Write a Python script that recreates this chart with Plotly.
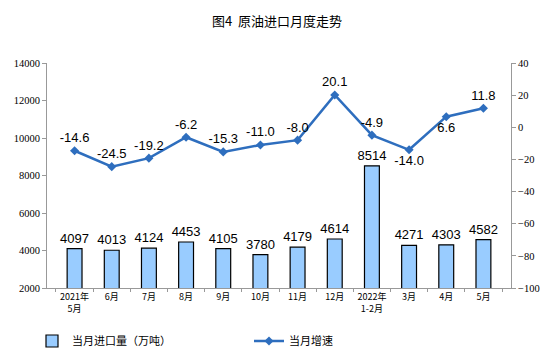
import plotly.graph_objects as go

categories = ["2021年<br>5月", "6月", "7月", "8月", "9月", "10月", "11月", "12月", "2022年<br>1-2月", "3月", "4月", "5月"]
imports = [4097, 4013, 4124, 4453, 4105, 3780, 4179, 4614, 8514, 4271, 4303, 4582]
growth = [-14.6, -24.5, -19.2, -6.2, -15.3, -11.0, -8.0, 20.1, -4.9, -14.0, 6.6, 11.8]
growth_pos = ["top center"] * 9 + ["bottom center", "bottom center", "top center"]

fig = go.Figure()
fig.add_trace(go.Bar(
    x=categories, y=imports, name="当月进口量（万吨）",
    marker=dict(color="#99CCFF", line=dict(color="#000000", width=1.2)),
    width=0.4,
    text=[str(v) for v in imports], textposition="outside", constraintext="none",
    textfont=dict(family="Liberation Sans, Arial", size=13, color="#000"),
    cliponaxis=False,
))
fig.add_trace(go.Scatter(
    x=categories, y=growth, name="当月增速", yaxis="y2",
    mode="lines+markers+text",
    line=dict(color="#2E6EBE", width=2.5),
    marker=dict(symbol="diamond", size=7, color="#2E6EBE"),
    text=[f"{v:.1f}" for v in growth], textposition=growth_pos,
    textfont=dict(family="Liberation Sans, Arial", size=13, color="#000"),
    cliponaxis=False,
))

fig.update_layout(
    width=554, height=357,
    margin=dict(l=47, r=43, t=63, b=69, autoexpand=False),
    paper_bgcolor="white", plot_bgcolor="white",
    title=dict(text="图4  原油进口月度走势", x=0.5, xanchor="center",
               yref="container", y=1 - 21 / 357, yanchor="middle",
               font=dict(family="Noto Sans CJK SC", size=13, color="#000")),
    font=dict(family="Noto Sans CJK SC", size=10, color="#000"),
    xaxis=dict(showline=True, linecolor="#999999", linewidth=1, ticks="outside", ticklen=3,
               tickcolor="#999999", tickson="boundaries", showgrid=False, tickangle=0,
               automargin=False,
               tickfont=dict(family="Noto Sans CJK SC", size=9)),
    yaxis=dict(range=[2000, 14000], dtick=2000, tickformat="d", showline=True, linecolor="#999999",
               linewidth=1, automargin=False,
               ticks="outside", ticklen=4, tickcolor="#999999", showgrid=False, zeroline=False,
               tickfont=dict(family="Liberation Serif", size=10.5)),
    yaxis2=dict(range=[-100, 40], dtick=20, overlaying="y", side="right", showline=True,
                linecolor="#999999", linewidth=1, ticks="outside", ticklen=4, tickcolor="#999999",
                showgrid=False, zeroline=False, automargin=False,
                tickfont=dict(family="Liberation Serif", size=10.5)),
    legend=dict(orientation="h", xref="container", x=32 / 554, yref="container", y=1 - 341 / 357,
                xanchor="left", yanchor="middle",
                font=dict(family="Noto Sans CJK SC", size=11), itemwidth=30,
                entrywidthmode="pixels", entrywidth=172, tracegroupgap=0),
    showlegend=True,
)

fig.write_html("out.html", config={"displayModeBar": False},
               post_script="document.body.style.margin='0';document.body.style.overflow='hidden';")
